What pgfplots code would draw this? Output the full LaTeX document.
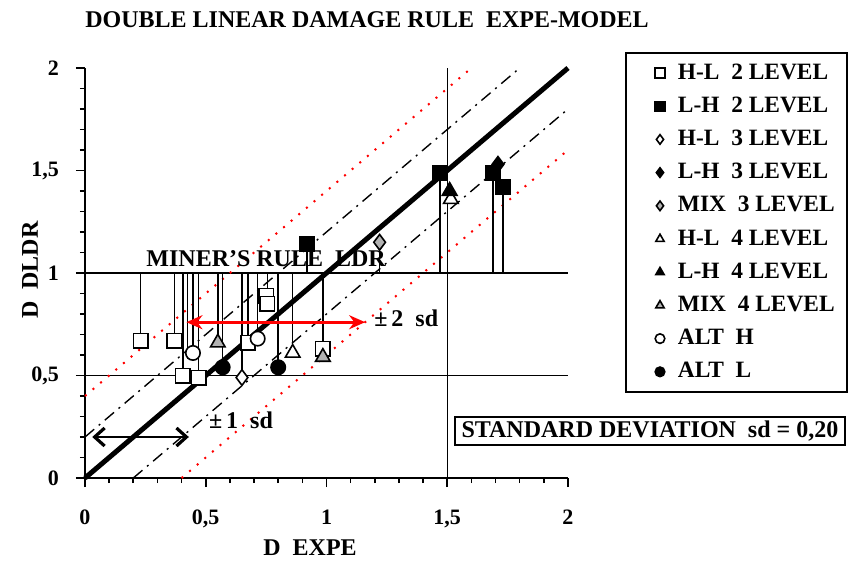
\documentclass[border=0pt]{standalone}
\usepackage{pgfplots}
\pgfplotsset{compat=1.18}
\usepackage{fontspec}
\setmainfont{Liberation Serif}
\usetikzlibrary{arrows.meta}

\begin{document}
\begin{tikzpicture}[font=\fontsize{12}{14}\selectfont\bfseries]
\useasboundingbox (-42.5pt,-42.5pt) rectangle (383.5pt,239pt);
\begin{axis}[
    scale only axis, width=241.5pt, height=205pt,
    xmin=0, xmax=2, ymin=0, ymax=2,
    clip=false,
    axis x line=bottom, axis y line=left,
    axis line style={-, line width=1pt},
    xtick={0,0.5,1,1.5,2}, ytick={0,0.5,1,1.5,2},
    minor tick num=4,
    tick align=outside,
    major tick length=4.5pt, minor tick length=2.5pt,
    tick style={black, line width=0.8pt},
    /pgf/number format/assume math mode=true,
    /pgf/number format/use comma,
    tick label style={font=\fontsize{11}{13}\selectfont\bfseries},
    xticklabel style={yshift=-8pt},
    yticklabel style={xshift=-5pt},
    xlabel={D\ \ EXPE},
    ylabel={D\ \ DLDR},
    xlabel style={at={(axis description cs:0.466,-0.171)}, anchor=center},
    ylabel style={at={(axis description cs:-0.114,0.507)}, anchor=center, rotate=0},
    title={DOUBLE LINEAR DAMAGE RULE\ \ EXPE-MODEL},
    title style={at={(axis description cs:0.584,1.088)}, anchor=center},
    legend cell align=left,
    legend style={at={(1.118,1.039)}, anchor=north west, draw=black,
        line width=1pt, font=\fontsize{11.7}{14}\selectfont\bfseries,
        inner xsep=4pt, inner ysep=2pt,
        nodes={inner sep=2pt, text height=9pt, text depth=3pt},
        row sep=0.6pt},
    legend image code/.code={
        \path[draw=none, fill=none] (0pt,-3pt) (20pt,3pt);
        \draw[#1, mark size=2.4pt, line width=0.6pt] plot coordinates {(13pt,0pt)};
    },
    every axis plot/.append style={mark options={solid, line width=0.8pt}},
]

% reference lines
\addplot[forget plot, black, line width=0.7pt] coordinates {(0,1) (2,1)};
\addplot[forget plot, black, line width=0.7pt] coordinates {(0,0.5) (2,0.5)};
\addplot[forget plot, black, line width=0.5pt] coordinates {(1.5,0) (1.5,2)};
\addplot[forget plot, red, line width=1pt, dash pattern=on 1pt off 4pt] coordinates {(0,0.4) (1.6,2)};
\addplot[forget plot, red, line width=1pt, dash pattern=on 1pt off 4pt] coordinates {(0.4,0) (2,1.6)};
\addplot[forget plot, black, line width=0.7pt, dash pattern=on 6pt off 3pt on 1pt off 3pt] coordinates {(0,0.2) (1.8,2)};
\addplot[forget plot, black, line width=0.7pt, dash pattern=on 6pt off 3pt on 1pt off 3pt] coordinates {(0.2,0) (2,1.8)};
\addplot[forget plot, black, line width=2.5pt] coordinates {(0,0) (2,2)};

% drop lines to Miner's rule (D = 1)
\addplot[forget plot, black, line width=0.75pt, unbounded coords=jump] coordinates {
    (0.23,0.67) (0.23,1) (0.23,nan)
    (0.37,0.67) (0.37,1) (0.37,nan)
    (0.405,0.50) (0.405,1) (0.405,nan)
    (0.425,0.58) (0.425,1) (0.425,nan)
    (0.447,0.61) (0.447,1) (0.447,nan)
    (0.47,0.49) (0.47,1) (0.47,nan)
    (0.55,0.66) (0.55,1) (0.55,nan)
    (0.57,0.54) (0.57,1) (0.57,nan)
    (0.65,0.49) (0.65,1) (0.65,nan)
    (0.675,0.66) (0.675,1) (0.675,nan)
    (0.715,0.68) (0.715,1) (0.715,nan)
    (0.755,0.85) (0.755,1) (0.755,nan)
    (0.80,0.54) (0.80,1) (0.80,nan)
    (0.86,0.61) (0.86,1) (0.86,nan)
    (0.985,0.63) (0.985,1) (0.985,nan)
    (0.92,1.14) (0.92,1) (0.92,nan)
    (1.22,1.15) (1.22,1) (1.22,nan)
    (1.47,1.49) (1.47,1) (1.47,nan)
    (1.69,1.49) (1.69,1) (1.69,nan)
    (1.73,1.42) (1.73,1) (1.73,nan)
};

% experimental points
\addplot[only marks, mark=square*, mark size=3.6pt, draw=black, fill=white] coordinates {
    (0.23,0.67) (0.37,0.67) (0.405,0.50) (0.47,0.49) (0.675,0.66)
    (0.75,0.89) (0.755,0.85) (0.985,0.63)
};
\addlegendentry{H-L\ \ 2 LEVEL}
\addplot[only marks, mark=square*, mark size=3.6pt, draw=black, fill=black] coordinates {
    (0.92,1.14) (1.47,1.49) (1.69,1.49) (1.73,1.42)
};
\addlegendentry{L-H\ \ 2 LEVEL}
\addplot[only marks, mark=diamond*, mark size=3.9pt, draw=black, fill=white] coordinates {
    (0.65,0.49)
};
\addlegendentry{H-L\ \ 3 LEVEL}
\addplot[only marks, mark=diamond*, mark size=3.9pt, draw=black, fill=black] coordinates {
    (1.71,1.53)
};
\addlegendentry{L-H\ \ 3 LEVEL}
\addplot[only marks, mark=diamond*, mark size=3.9pt, draw=black, fill=gray!60] coordinates {
    (1.22,1.15)
};
\addlegendentry{MIX\ \ 3 LEVEL}
\addplot[only marks, mark=triangle*, mark size=4.2pt, draw=black, fill=white] coordinates {
    (0.86,0.61) (1.515,1.36)
};
\addlegendentry{H-L\ \ 4 LEVEL}
\addplot[only marks, mark=triangle*, mark size=4.2pt, draw=black, fill=black] coordinates {
    (1.51,1.40)
};
\addlegendentry{L-H\ \ 4 LEVEL}
\addplot[only marks, mark=triangle*, mark size=4.2pt, draw=black, fill=gray!60] coordinates {
    (0.55,0.66) (0.985,0.59)
};
\addlegendentry{MIX\ \ 4 LEVEL}
\addplot[only marks, mark=*, mark size=3.6pt, draw=black, fill=white] coordinates {
    (0.447,0.61) (0.715,0.68)
};
\addlegendentry{ALT\ \ H}
\addplot[only marks, mark=*, mark size=3.6pt, draw=black, fill=black] coordinates {
    (0.57,0.54) (0.80,0.54)
};
\addlegendentry{ALT\ \ L}

% annotations
\node at (axis cs:0.75,1.07) {MINER'S RULE\ \ LDR};
\draw[red, line width=1.3pt, {Stealth[length=8pt,width=7pt]}-{Stealth[length=8pt,width=7pt]}]
    (axis cs:0.42,0.76) -- (axis cs:1.16,0.76);
\node at (axis cs:1.33,0.78) {±\,2\ \ sd};
\draw[black, line width=1.3pt, {Straight Barb[length=5pt,width=9pt,line width=1.6pt]}-{Straight Barb[length=5pt,width=9pt,line width=1.6pt]}]
    (axis cs:0.03,0.2) -- (axis cs:0.43,0.2);
\node at (axis cs:0.646,0.283) {±\,1\ \ sd};
\end{axis}
\node[draw=black, line width=0.8pt, minimum width=195pt, minimum height=14pt, inner sep=1pt]
    at (282.5pt,23.5pt) {STANDARD DEVIATION\ \ sd = 0,20};
\end{tikzpicture}
\end{document}
